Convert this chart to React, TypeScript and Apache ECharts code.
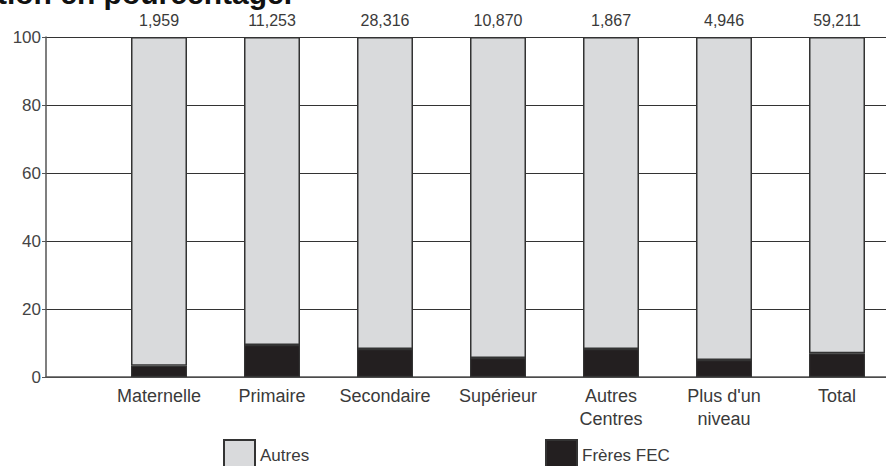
import React, { useEffect, useRef } from "react";
import * as echarts from "echarts";

const categories = ["", "Maternelle", "Primaire", "Secondaire", "Supérieur", "Autres\nCentres", "Plus d'un\nniveau", "Total", ""];
const freresFEC = [null, 3.3, 9.4, 8.2, 5.6, 8.2, 5.0, 7.0, null];
const autres = [null, 96.7, 90.6, 91.8, 94.4, 91.8, 95.0, 93.0, null];
const totals = ["", "1,959", "11,253", "28,316", "10,870", "1,867", "4,946", "59,211", ""];
const yTicks = [0, 20, 40, 60, 80, 100];
const titleText = "Répartition des élèves selon le niveau d'éducation en pourcentage.";

export default function App() {
  const ref = useRef<HTMLDivElement>(null);
  useEffect(() => {
    const chart = echarts.init(ref.current!, null, { renderer: "svg" });
    const font = "Liberation Sans, Arial, sans-serif";
    chart.setOption({
      animation: false,
      backgroundColor: "#ffffff",
      textStyle: { fontFamily: font },
      graphic: [
        {
          type: "text",
          style: {
            text: titleText,
            x: 292,
            y: 8,
            align: "right",
            verticalAlign: "bottom",
            font: "bold 30px " + font,
            fill: "#111",
          },
        },
      ],
      legend: [
        {
          data: ["Autres"],
          left: 223,
          top: 439,
          padding: 0,
          icon: "rect",
          itemWidth: 31,
          itemHeight: 31,
          itemGap: 8,
          textStyle: { fontSize: 17, color: "#3a3a3a", fontFamily: font },
        },
        {
          data: ["Frères FEC"],
          left: 545,
          top: 439,
          padding: 0,
          icon: "rect",
          itemWidth: 31,
          itemHeight: 31,
          itemGap: 8,
          textStyle: { fontSize: 17, color: "#3a3a3a", fontFamily: font },
        },
      ],
      grid: { left: 46, top: 37, width: 904, height: 340, containLabel: false },
      xAxis: {
        type: "category",
        data: categories,
        boundaryGap: false,
        axisLine: { lineStyle: { color: "#555", width: 1.5 } },
        axisTick: { show: false },
        axisLabel: { color: "#3a3a3a", fontSize: 18, margin: 7, lineHeight: 23, interval: 0 },
        splitLine: { show: false },
      },
      yAxis: {
        type: "value",
        min: 0,
        max: 100,
        interval: 20,
        axisLine: { show: true, lineStyle: { color: "#555", width: 1.5 } },
        axisTick: { show: true, inside: false, length: 4, lineStyle: { color: "#555" } },
        axisLabel: {
          color: "#444",
          fontSize: 17,
          margin: 5,
          formatter: (v: number) => (yTicks.includes(v) ? String(v) : ""),
        },
        splitLine: { show: true, lineStyle: { color: "#333", width: 1.2 } },
      },
      series: [
        {
          name: "Frères FEC",
          type: "bar",
          stack: "s",
          barWidth: 56,
          data: freresFEC,
          itemStyle: { color: "#231f20", borderColor: "#333", borderWidth: 1.2 },
        },
        {
          name: "Autres",
          type: "bar",
          stack: "s",
          barWidth: 56,
          data: autres,
          itemStyle: { color: "#d9dadc", borderColor: "#333", borderWidth: 1.5 },
          label: {
            show: true,
            position: "top",
            distance: 9,
            color: "#3a3a3a",
            fontSize: 16,
            formatter: (p: any) => totals[p.dataIndex],
          },
        },
      ],
    });
    return () => chart.dispose();
  }, []);
  return (
    <div style={{ position: "fixed", left: 0, top: 0, width: 886, height: 466, overflow: "hidden" }}>
      <div ref={ref} style={{ width: 960, height: 466 }} />
    </div>
  );
}
